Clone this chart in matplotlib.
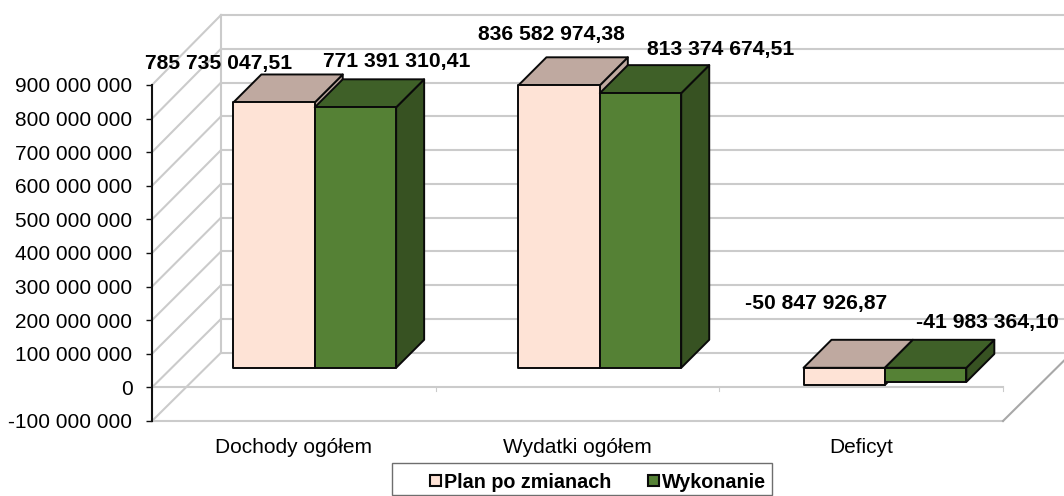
import matplotlib
matplotlib.use("Agg")
import matplotlib.pyplot as plt
from matplotlib.patches import Patch, Rectangle
from matplotlib.ticker import FuncFormatter

plt.rcParams['font.family'] = ['Liberation Sans', 'DejaVu Sans']

categories = ["Dochody ogółem", "Wydatki ogółem", "Deficyt"]
series_names = ["Plan po zmianach", "Wykonanie"]
plan_values = [785735047.51, 836582974.38, -50847926.87]
actual_values = [771391310.41, 813374674.51, -41983364.10]
value_ticks = [-100000000, 0, 100000000, 200000000, 300000000, 400000000,
               500000000, 600000000, 700000000, 800000000, 900000000]

W, H = 1064, 496
L, R, T, B = 152.0, 1003.0, 85.0, 421.0

fig = plt.figure(figsize=(W / 100, H / 100), dpi=100)
ax = fig.add_axes([L / W, 1 - B / H, (R - L) / W, (B - T) / H])
ax.set_xlim(-0.5, 2.5)
ax.set_ylim(-100000000, 900000000)
ax.patch.set_visible(False)

PX_X = 3 / (R - L)            # category units per pixel
PX_Y = 1000000000 / (B - T)   # value units per pixel
GRID = "#cbcbcb"
GRID_LW = 1.5


def fmt(v):
    return f"{int(v):,}".replace(",", " ")


def num_label(v):
    whole, frac = f"{abs(v):,.2f}".split(".")
    return ("-" if v < 0 else "") + whole.replace(",", " ") + "," + frac


def project(x, v, depth_px, scale=1.005):
    """Oblique projection of a data point (x, v) onto the chart plane."""
    return ((x + 0.5) * scale - 0.5 + depth_px[0] * PX_X,
            v * scale + depth_px[1] * PX_Y)


# Walls and floor
WALL = (69, 70)
BACK_DY = (B - 352.7)
for v in value_ticks:
    x0, y0 = -0.5, v
    yb = -100000000 + (v + 100000000) * 1.005 + BACK_DY * PX_Y
    ax.plot([x0, x0 + WALL[0] * PX_X], [y0, yb], color=GRID, lw=GRID_LW, clip_on=False, zorder=1)
    ax.plot([x0 + WALL[0] * PX_X, 2.5 + WALL[0] * PX_X], [yb, yb], color=GRID, lw=GRID_LW, clip_on=False, zorder=1)
yb_low = -100000000 + BACK_DY * PX_Y
yb_top = -100000000 + 1000000000 * 1.005 + BACK_DY * PX_Y
ax.plot([-0.5 + WALL[0] * PX_X] * 2, [yb_low, yb_top], color=GRID, lw=GRID_LW, clip_on=False, zorder=1)
ax.plot([-0.5, 2.5], [-100000000, -100000000], color=GRID, lw=GRID_LW, clip_on=False, zorder=1)
ax.plot([2.5, 2.5 + WALL[0] * PX_X], [-100000000, yb_low], color="#a8a8a8", lw=GRID_LW, clip_on=False, zorder=1)
ax.plot([-0.5, 2.5], [0, 0], color=GRID, lw=GRID_LW, clip_on=False, zorder=1)
for t in [-0.5, 0.5, 1.5, 2.5]:
    ax.plot([t, t], [0, -4 * PX_Y], color=GRID, lw=0.8, clip_on=False, zorder=1)

# 3D bars
BAR_W = 81.0 * PX_X
DEPTH = 28
OFFSET = (20.2, 19.6)
styles = [
    {"front": "#fee3d6", "top": "#bfa9a0", "side": "#bfa9a0"},
    {"front": "#558135", "top": "#3f6028", "side": "#375222"},
]


def poly(points, color):
    xs, ys = zip(*points)
    ax.fill(xs, ys, facecolor=color, edgecolor="#0a0a0a", lw=1.4,
            joinstyle="round", clip_on=False, zorder=3)


for s_idx, vals in enumerate([plan_values, actual_values]):
    st = styles[s_idx]
    for c_idx, v in enumerate(vals):
        x_left = c_idx + (s_idx - 1) * BAR_W
        x_right = x_left + BAR_W
        hi, lo = max(v, 0), min(v, 0)
        fl = project(x_left, lo, OFFSET)
        fr = project(x_right, lo, OFFSET)
        tl = project(x_left, hi, OFFSET)
        tr = project(x_right, hi, OFFSET)
        back = (OFFSET[0] + DEPTH, OFFSET[1] + DEPTH)
        btl = project(x_left, hi, back)
        btr = project(x_right, hi, back)
        bbr = project(x_right, lo, back)
        poly([tr, btr, bbr, fr], st["side"])
        poly([tl, tr, btr, btl], st["top"])
        poly([fl, fr, tr, tl], st["front"])

# Data labels
label_offsets = [[(-55, 39), (41, 46)], [(-8, 51), (80, 44)], [(-28, 64), (62, 45)]]
for s_idx, vals in enumerate([plan_values, actual_values]):
    for c_idx, v in enumerate(vals):
        x_left = c_idx + (s_idx - 1) * BAR_W
        ox, oy = label_offsets[c_idx][s_idx]
        px, py = project(x_left + BAR_W / 2, max(v, 0), OFFSET)
        ax.annotate(num_label(v), xy=(px, py), xytext=(ox, oy), textcoords="offset pixels",
                    ha="center", va="center", fontsize=15.2, fontweight="bold",
                    color="#000000", zorder=5, annotation_clip=False)

# Axes
for name in ["top", "right", "bottom"]:
    ax.spines[name].set_visible(False)
ax.spines["left"].set_color("#111111")
ax.spines["left"].set_linewidth(1.5)
ax.set_yticks(value_ticks)
ax.yaxis.set_major_formatter(FuncFormatter(lambda v, _: fmt(v)))
ax.tick_params(axis="y", length=4.5, width=1.0, color="#111111", labelsize=15, pad=9.6)
ax.set_xticks(range(len(categories)))
ax.set_xticklabels(categories)
ax.tick_params(axis="x", length=0, labelsize=15, pad=12)

# Legend
fig.add_artist(Rectangle((392 / W, 1 - 495 / H), 380 / W, 32 / H, transform=fig.transFigure,
                         facecolor="white", edgecolor="#6e6e6e", lw=1.0))
handles = [Patch(facecolor=styles[i]["front"], edgecolor="#0a0a0a", lw=1.5, label=series_names[i])
           for i in range(2)]
fig.legend(handles=handles, ncol=2, loc="center", bbox_to_anchor=(598 / W, 1 - 482 / H),
           frameon=False, prop={"size": 14.2, "weight": "bold"},
           handlelength=0.55, handleheight=0.55, handletextpad=0.15, columnspacing=1.85)

fig.savefig("out.png", dpi=100)
